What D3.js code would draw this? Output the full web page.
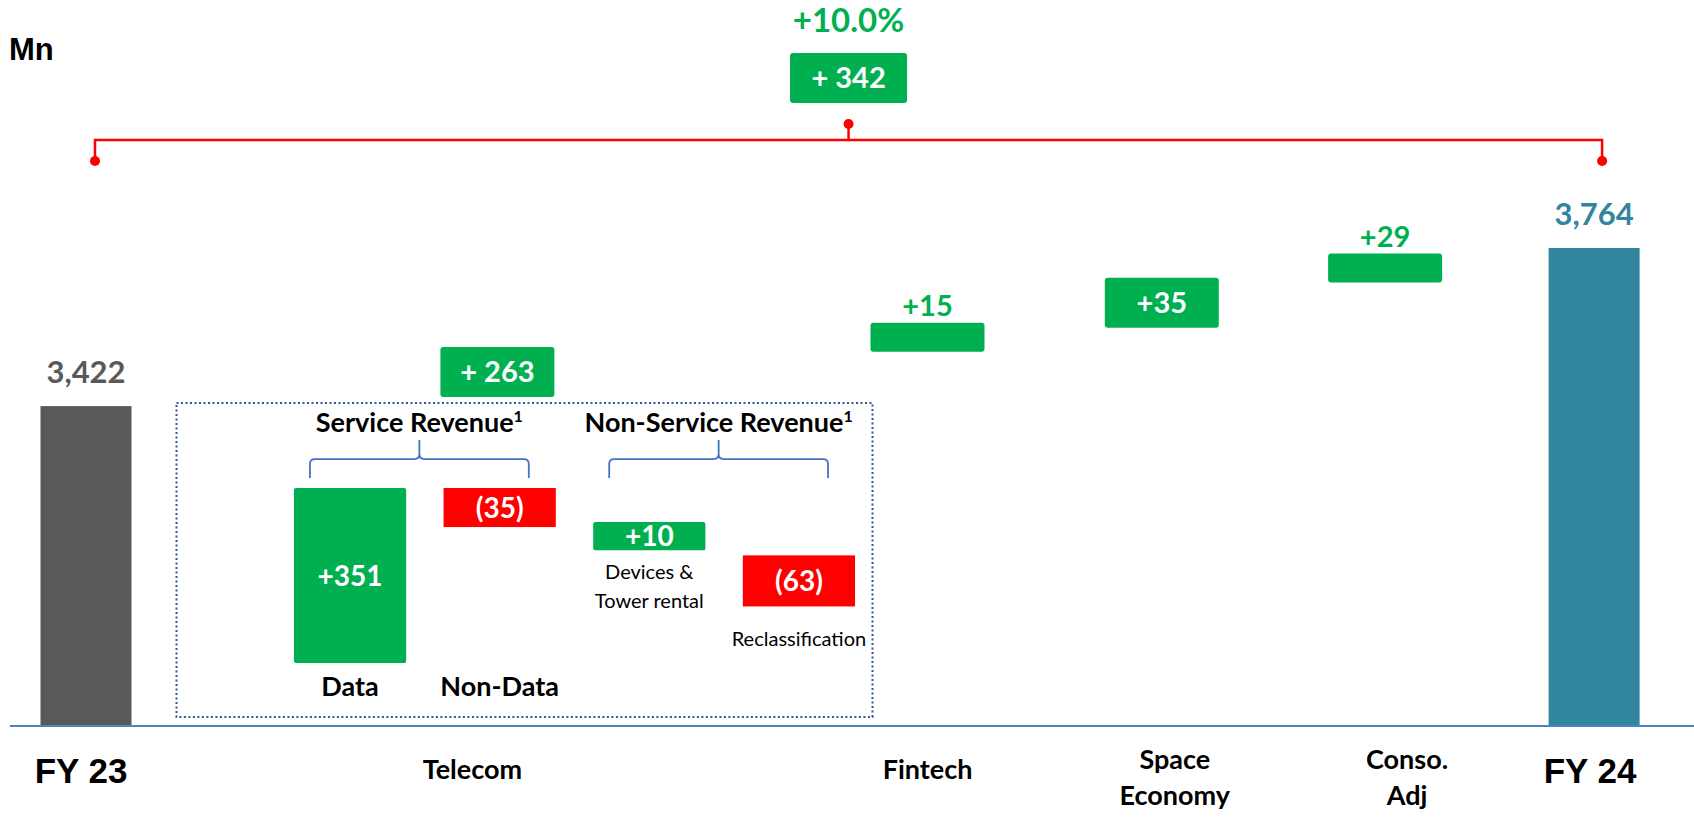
<!DOCTYPE html>
<html>
<head>
<meta charset="utf-8">
<script src="https://cdn.jsdelivr.net/npm/d3@7"></script>
<style>
  body { margin: 0; background: #fff; }
  svg { display: block; }
</style>
</head>
<body>
<div id="chart"></div>
<script>
// revenue bridge FY23 -> FY24, Mn
var unitLabel = "Mn";
var startLabel = "FY 23";
var endLabel = "FY 24";
var startValue = 3422;
var endValue = 3764;

var stepNames = ["Telecom", "Fintech", "Space\nEconomy", "Conso.\nAdj"];
var stepValues = [263, 15, 35, 29];

// telecom breakdown
var telecomNames = ["Data", "Non-Data", "Devices &\nTower rental", "Reclassification"];
var telecomValues = [351, -35, 10, -63];
var telecomGroups = ["Service Revenue", "Non-Service Revenue"];
var telecomGroupOf = [0, 0, 1, 1];

// ---- layout / style ----
var W = 1694, H = 819;
var baseY = 726;
var axisFloor = 2730;          // axis is cut, like the slide
var barW = 91, stepW = 114;
var slotWeights = [1, 2.74, 1.17, 0.96, 1.07, 0.83];
var catLabelDx = [-5, -25, 0, 13, 22, -4];
var boxedSteps = ["Telecom", "Space\nEconomy"];   // label drawn inside the box

var green = "#00B050", red = "#FF0000";
var calibri = "Lato, 'Open Sans', sans-serif";
var arial = "'Liberation Sans', Arial, sans-serif";

var cats = [startLabel].concat(stepNames, [endLabel]);
var cum = Array.from(d3.cumsum(slotWeights));
var xw = d3.scaleLinear().domain([0, d3.sum(slotWeights)]).range([-24, -24 + 220 * d3.sum(slotWeights)]);
function xc(i){ return xw(cum[i] - slotWeights[i] / 2); }

var y = d3.scaleLinear().domain([axisFloor, endValue]).range([baseY, 248]);

// floating steps are spread evenly between the two totals (not to scale, as in the source)
var yStep = d3.scalePoint().domain(stepNames)
  .range([y(startValue), y(endValue)])
  .padding(0.78).align(0.37);

function fmtStep(v){ return v < 0 ? "(" + (-v) + ")" : "+" + v; }

function addLines(g, lines, x, y0, lh){
  var t = g.append("text").attr("x", x).attr("y", y0).attr("text-anchor", "middle");
  lines.forEach(function(l, i){
    t.append("tspan").attr("x", x).attr("dy", i === 0 ? 0 : lh).text(l);
  });
  return t;
}

var svg = d3.select("#chart").append("svg").attr("width", W).attr("height", H);

svg.append("text")
  .attr("x", 9).attr("y", 60)
  .style("font-family", arial).style("font-weight", "bold").style("font-size", "31px")
  .text(unitLabel);

// ---- totals ----
var totals = [
  {name: startLabel, value: startValue, i: 0, color: "#595959"},
  {name: endLabel, value: endValue, i: cats.length - 1, color: "#31859C"}
];

svg.selectAll(".total-bar")
  .data(totals)
  .enter().append("rect")
  .attr("class", "total-bar")
  .attr("x", function(d){ return xc(d.i) - barW / 2; })
  .attr("y", function(d){ return y(d.value); })
  .attr("width", barW)
  .attr("height", function(d){ return baseY - y(d.value); })
  .style("fill", function(d){ return d.color; });

svg.selectAll(".total-label")
  .data(totals)
  .enter().append("text")
  .attr("class", "total-label")
  .attr("x", function(d){ return xc(d.i); })
  .attr("y", function(d){ return y(d.value) - 23; })
  .attr("text-anchor", "middle")
  .style("font-family", calibri).style("font-weight", "bold").style("font-size", "31px")
  .style("fill", function(d){ return d.color; })
  .text(function(d){ return d3.format(",")(d.value); });

// ---- steps ----
var steps = stepNames.map(function(n, i){
  var inside = boxedSteps.includes(n);
  return {name: n, value: stepValues[i], i: i + 1, inside: inside, h: inside ? 50 : 29};
});

var stepG = svg.selectAll(".step")
  .data(steps)
  .enter().append("g")
  .attr("class", "step");

stepG.append("rect")
  .attr("x", function(d){ return xc(d.i) - stepW / 2; })
  .attr("y", function(d){ return yStep(d.name) - d.h / 2; })
  .attr("width", stepW)
  .attr("height", function(d){ return d.h; })
  .attr("rx", 3)
  .style("fill", green);

stepG.append("text")
  .attr("x", function(d){ return xc(d.i); })
  .attr("y", function(d){ return d.inside ? yStep(d.name) + 10 : yStep(d.name) - d.h / 2 - 7; })
  .attr("text-anchor", "middle")
  .style("font-family", calibri).style("font-weight", "bold").style("font-size", "29px")
  .style("fill", function(d){ return d.inside ? "#fff" : green; })
  .text(function(d){ return d.name === "Telecom" ? "+ " + d.value : fmtStep(d.value); });

// ---- baseline + category labels ----
svg.append("line")
  .attr("x1", 10).attr("x2", W)
  .attr("y1", baseY).attr("y2", baseY)
  .style("stroke", "#4F81BD").style("stroke-width", 2);

cats.forEach(function(c, i){
  var isTotal = (i === 0 || i === cats.length - 1);
  var lines = c.split("\n");
  var t = addLines(svg, lines, xc(i) + catLabelDx[i], lines.length > 1 ? 769 : (isTotal ? 783 : 779), 36);
  t.style("font-family", isTotal ? arial : calibri)
   .style("font-weight", "bold")
   .style("font-size", isTotal ? "35px" : "27px")
   .style("fill", "#000");
});

// ---- overall change bracket ----
var bx0 = xc(0) + 9, bx1 = xc(cats.length - 1) + 8, bxm = (bx0 + bx1) / 2;
var brY = 140;
var change = endValue - startValue;

svg.append("path")
  .attr("d", "M" + bx0 + "," + (brY + 21) + "V" + brY + "H" + bx1 + "V" + (brY + 21) +
             "M" + bxm + "," + brY + "V" + (brY - 16))
  .style("fill", "none").style("stroke", red).style("stroke-width", 2.5);

svg.selectAll(".br-dot")
  .data([[bx0, brY + 21], [bx1, brY + 21], [bxm, brY - 16]])
  .enter().append("circle")
  .attr("class", "br-dot")
  .attr("cx", function(d){ return d[0]; })
  .attr("cy", function(d){ return d[1]; })
  .attr("r", 5)
  .style("fill", red);

svg.append("rect")
  .attr("x", bxm - 58.5).attr("y", 53)
  .attr("width", 117).attr("height", 50).attr("rx", 3)
  .style("fill", green);

svg.append("text")
  .attr("x", bxm).attr("y", 88).attr("text-anchor", "middle")
  .style("font-family", calibri).style("font-weight", "bold").style("font-size", "29px")
  .style("fill", "#fff")
  .text("+ " + change);

svg.append("text")
  .attr("x", bxm).attr("y", 32).attr("text-anchor", "middle")
  .style("font-family", calibri).style("font-weight", "bold").style("font-size", "33px")
  .style("fill", green)
  .text("+" + d3.format(".1%")(change / startValue));

// ---- telecom breakdown ----
var boxL = xc(0) + barW / 2 + 45;
var boxR = xc(2) - stepW / 2 + 2;
var boxT = y(startValue) - 3;
var boxB = baseY - 9;

svg.append("rect")
  .attr("x", boxL).attr("y", boxT)
  .attr("width", boxR - boxL).attr("height", boxB - boxT)
  .style("fill", "none").style("stroke", "#2F5597")
  .style("stroke-width", 2).style("stroke-dasharray", "2,2.5");

var subX = d3.scaleBand().domain(telecomNames)
  .range([boxL + 95, boxR + 5])
  .paddingInner(0.25).paddingOuter(0.15);

var subBase = boxB - 54;
var hScale = d3.scaleLinear()
  .domain([0, d3.max(telecomValues, function(v){ return Math.abs(v); })])
  .range([24, 175]);

// first item rises from the base, the rest cascade from where the last one ended
var cursor = subBase;
var subs = telecomValues.map(function(v, i){
  var h = hScale(Math.abs(v));
  var top = i === 0 ? cursor - h : cursor;
  cursor = i === 0 ? top : top + h;
  return {name: telecomNames[i], value: v, group: telecomGroupOf[i], top: top, h: h};
});
subs[2].top -= 5;   // the +10 box sits a little higher in the slide

var subG = svg.selectAll(".sub")
  .data(subs)
  .enter().append("g")
  .attr("class", "sub");

subG.append("rect")
  .attr("x", function(d){ return subX(d.name); })
  .attr("y", function(d){ return d.top; })
  .attr("width", subX.bandwidth())
  .attr("height", function(d){ return d.h; })
  .attr("rx", function(d){ return d.value < 0 ? 0 : 2; })
  .style("fill", function(d){ return d.value < 0 ? red : green; });

subG.append("text")
  .attr("x", function(d){ return subX(d.name) + subX.bandwidth() / 2; })
  .attr("y", function(d){ return d.top + d.h / 2 + 10; })
  .attr("text-anchor", "middle")
  .style("font-family", calibri).style("font-weight", "bold").style("font-size", "28px")
  .style("fill", "#fff")
  .text(function(d){ return fmtStep(d.value); });

subs.forEach(function(d){
  var cx = subX(d.name) + subX.bandwidth() / 2;
  if (d.group === 0) {
    addLines(svg, d.name.split("\n"), cx, subBase + 33, 30)
      .style("font-family", calibri).style("font-weight", "bold").style("font-size", "27px");
  } else {
    var gap = d.name.indexOf("\n") >= 0 ? 29 : 40;
    addLines(svg, d.name.split("\n"), cx, d.top + d.h + gap, 29)
      .style("font-family", calibri).style("font-size", "20px");
  }
});

// group braces + headers
var braceTop = boxT + 37, braceMid = boxT + 56, braceBot = boxT + 75;
telecomGroups.forEach(function(gname, gi){
  var members = subs.filter(function(d){ return d.group === gi; });
  var l = subX(members[0].name) + 16;
  var r = subX(members[members.length - 1].name) + subX.bandwidth() - 27;
  var c = (l + r) / 2;
  var p = d3.path();
  p.moveTo(l, braceBot);
  p.lineTo(l, braceMid + 5);
  p.quadraticCurveTo(l, braceMid, l + 5, braceMid);
  p.lineTo(c - 5, braceMid);
  p.quadraticCurveTo(c, braceMid, c, braceMid - 5);
  p.lineTo(c, braceTop);
  p.moveTo(c, braceMid - 5);
  p.quadraticCurveTo(c, braceMid, c + 5, braceMid);
  p.lineTo(r - 5, braceMid);
  p.quadraticCurveTo(r, braceMid, r, braceMid + 5);
  p.lineTo(r, braceBot);
  svg.append("path").attr("d", p.toString())
    .style("fill", "none").style("stroke", "#4472C4").style("stroke-width", 1.8);

  var t = svg.append("text")
    .attr("x", c).attr("y", boxT + 29).attr("text-anchor", "middle")
    .style("font-family", calibri).style("font-weight", "bold").style("font-size", "27px");
  t.append("tspan").text(gname);
  t.append("tspan").attr("dy", -10).style("font-size", "16px").text("1");
});
</script>
</body>
</html>
